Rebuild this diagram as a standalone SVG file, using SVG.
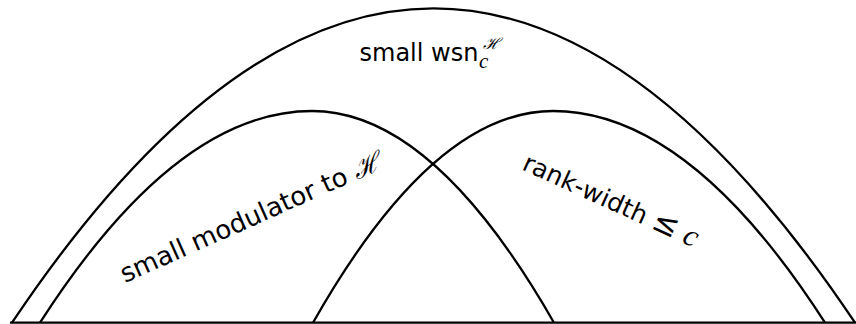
<svg xmlns="http://www.w3.org/2000/svg" width="856" height="324" viewBox="0 0 856 324">
  <style>
    .edge { fill: none; stroke: #000; stroke-width: 2.3; stroke-linejoin: round; }
    .lbl { font-family: "DejaVu Sans", "Liberation Sans", sans-serif; fill: #000; }
    .cal { font-family: "DejaVu Serif", "Liberation Serif", serif; font-style: italic; }
    .var { font-family: "Liberation Serif", "DejaVu Serif", serif; font-style: italic; }
  </style>
  <rect width="856" height="324" fill="#fff"/>

  <g id="connectors">
    <!-- ground line -->
    <path class="edge" d="M10,322.7 H856"/>
  </g>

  <!-- outer region: small wsn (single parabola) -->
  <g id="wsn">
    <path class="edge" d="M12,322.7 Q433.5,-306 855,322.7"/>
    <text class="lbl" x="359.5" y="60.7" font-size="24">small wsn</text>
    <text class="lbl cal" x="483" y="49" font-size="16">ℋ</text>
    <text class="lbl var" x="479" y="68" font-size="21">c</text>
  </g>

  <!-- left region: small modulator (two parabola halves meeting at the bend) -->
  <g id="modulator">
    <path class="edge" d="M40,322.7 Q176,111 312,111 Q433,111 554,322.7"/>
    <text class="lbl" transform="translate(125,283) rotate(-24)" font-size="26">small modulator to <tspan class="cal">ℋ</tspan></text>
  </g>

  <!-- right region: bounded rank-width, mirror of the left one -->
  <g id="rankwidth">
    <path class="edge" d="M313,322.7 Q433,111 553,111 Q689,111 825,322.7"/>
    <text class="lbl" transform="translate(521,169) rotate(24.5)" font-size="25">rank-width <tspan font-size="31">≤</tspan> <tspan class="var" font-size="31">c</tspan></text>
  </g>
</svg>
